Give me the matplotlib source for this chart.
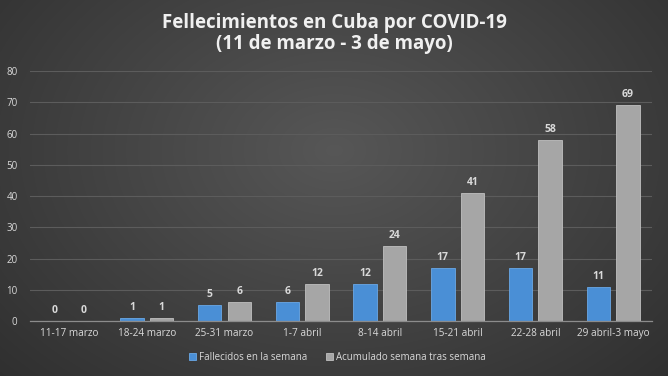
import matplotlib
matplotlib.use('Agg')
import matplotlib.pyplot as plt
import numpy as np

plt.rcParams['font.family'] = ['Open Sans', 'DejaVu Sans']

semanas = ['11-17 marzo', '18-24 marzo', '25-31 marzo', '1-7 abril',
           '8-14 abril', '15-21 abril', '22-28 abril', '29 abril-3 mayo']
fallecidos = [0, 1, 5, 6, 12, 17, 17, 11]
acumulado = [0, 1, 6, 12, 24, 41, 58, 69]
yticks = [0, 10, 20, 30, 40, 50, 60, 70, 80]

TXT = '#d9d9d9'

fig = plt.figure(figsize=(6.68, 3.76), dpi=100)

# fondo con degradado radial
bg = fig.add_axes([0, 0, 1, 1])
yy, xx = np.mgrid[0:376, 0:668]
r = np.sqrt(((xx - 334) / 420.0) ** 2 + ((yy - 150) / 300.0) ** 2)
g = np.clip(0.34 - 0.14 * r, 0.17, 0.35)
bg.imshow(np.dstack([g, g, g]), aspect='auto', extent=[0, 1, 0, 1])
bg.set_axis_off()

ax = fig.add_axes([0.045, 0.146, 0.931, 0.665])
ax.patch.set_alpha(0)

x = np.arange(len(semanas))
w = 0.30
b1 = ax.bar(x - w / 2 - 0.04, fallecidos, w, color='#4a8fd6',
            edgecolor='#6aa8e6', linewidth=0.6, label='Fallecidos en la semana')
b2 = ax.bar(x + w / 2 + 0.04, acumulado, w, color='#a6a6a6',
            edgecolor='#c0c0c0', linewidth=0.6, label='Acumulado semana tras semana')

for bars in (b1, b2):
    for rect in bars:
        h = rect.get_height()
        ax.text(rect.get_x() + rect.get_width() / 2, h + 1.6, f'{int(h)}',
                ha='center', va='bottom', color=TXT, fontsize=7.5, fontweight='bold')

ax.set_ylim(0, 80)
ax.set_xlim(-0.5, len(semanas) - 0.5)
ax.set_yticks(yticks)
ax.set_yticklabels([str(v) for v in yticks], color=TXT, fontsize=7)
ax.set_xticks(x)
ax.set_xticklabels(semanas, color=TXT, fontsize=7.2)
ax.tick_params(length=0, pad=5)
ax.tick_params(axis='y', pad=9)
ax.grid(axis='y', color='#5c5c5c', linewidth=0.8)
ax.set_axisbelow(True)
for s in ['top', 'right', 'left']:
    ax.spines[s].set_visible(False)
ax.spines['bottom'].set_color('#8c8c8c')
ax.spines['bottom'].set_linewidth(0.9)

fig.text(0.5, 0.94, 'Fellecimientos en Cuba por COVID-19', ha='center', va='center',
         color='#f0f0f0', fontsize=13.5, fontweight='bold')
fig.text(0.5, 0.883, '(11 de marzo - 3 de mayo)', ha='center', va='center',
         color='#f0f0f0', fontsize=13.5, fontweight='bold')

fig.legend(handles=[b1, b2], loc='center', bbox_to_anchor=(0.505, 0.05), ncol=2,
           frameon=False, fontsize=7, labelcolor=TXT, handlelength=0.7,
           handleheight=0.7, handletextpad=0.3, columnspacing=2.0)

fig.savefig('out.png', dpi=100)
